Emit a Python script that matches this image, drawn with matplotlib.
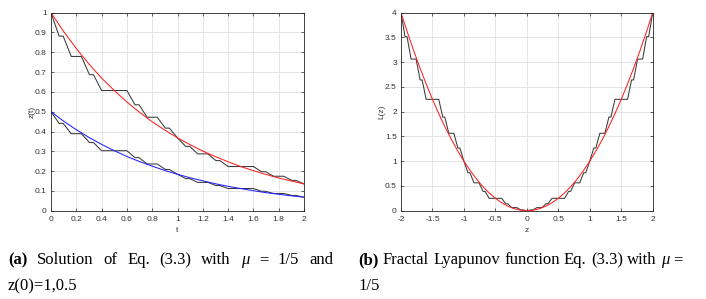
import matplotlib
matplotlib.use("Agg")
import matplotlib.pyplot as plt

# ---------------- data ----------------
t_stair = [0, 0.064, 0.096, 0.16, 0.24, 0.304, 0.336, 0.4, 0.6, 0.664, 0.696, 0.76, 0.84, 0.904, 0.936, 1.0,
           1.064, 1.096, 1.16, 1.24, 1.304, 1.336, 1.4, 1.6, 1.664, 1.696, 1.76, 1.84, 1.904, 1.936, 2.0]
z1_stair = [1.0, 0.882, 0.882, 0.779, 0.779, 0.687, 0.687, 0.607, 0.607, 0.535, 0.535, 0.472, 0.472, 0.417, 0.417,
            0.368, 0.325, 0.325, 0.287, 0.287, 0.253, 0.253, 0.223, 0.223, 0.197, 0.197, 0.174, 0.174, 0.153, 0.153,
            0.135]
z2_stair = [0.5, 0.441, 0.441, 0.389, 0.389, 0.344, 0.344, 0.303, 0.303, 0.268, 0.268, 0.236, 0.236, 0.208, 0.208,
            0.184, 0.162, 0.162, 0.143, 0.143, 0.127, 0.127, 0.112, 0.112, 0.098, 0.098, 0.087, 0.087, 0.077, 0.077,
            0.068]

t_smooth = [0.0, 0.1, 0.2, 0.3, 0.4, 0.5, 0.6, 0.7, 0.8, 0.9, 1.0, 1.1, 1.2, 1.3, 1.4, 1.5, 1.6, 1.7, 1.8, 1.9, 2.0]
z1_smooth = [1.0, 0.905, 0.819, 0.741, 0.670, 0.607, 0.549, 0.497, 0.449, 0.407, 0.368, 0.333, 0.301, 0.273,
             0.247, 0.223, 0.202, 0.183, 0.165, 0.150, 0.135]
z2_smooth = [0.5, 0.452, 0.409, 0.370, 0.335, 0.303, 0.274, 0.248, 0.225, 0.203, 0.184, 0.166, 0.151, 0.136,
             0.123, 0.112, 0.101, 0.091, 0.083, 0.075, 0.068]

zr_stair = [-2.0, -1.936, -1.904, -1.84, -1.76, -1.696, -1.664, -1.6, -1.4, -1.336, -1.304, -1.24, -1.16, -1.096,
            -1.064, -1.0, -0.936, -0.904, -0.84, -0.76, -0.696, -0.664, -0.6, -0.4, -0.336, -0.304, -0.24, -0.16,
            -0.096, -0.064, 0.0, 0.064, 0.096, 0.16, 0.24, 0.304, 0.336, 0.4, 0.6, 0.664, 0.696, 0.76, 0.84, 0.904,
            0.936, 1.0, 1.064, 1.096, 1.16, 1.24, 1.304, 1.336, 1.4, 1.6, 1.664, 1.696, 1.76, 1.84, 1.904, 1.936, 2.0]
L_stair = [4.0, 3.516, 3.516, 3.063, 3.063, 2.641, 2.641, 2.25, 2.25, 1.891, 1.891, 1.563, 1.563, 1.266, 1.266,
           1.0, 0.766, 0.766, 0.563, 0.563, 0.391, 0.391, 0.25, 0.25, 0.141, 0.141, 0.0625, 0.0625, 0.0156, 0.0156,
           0.0, 0.0156, 0.0156, 0.0625, 0.0625, 0.141, 0.141, 0.25, 0.25, 0.391, 0.391, 0.563, 0.563, 0.766, 0.766,
           1.0, 1.266, 1.266, 1.563, 1.563, 1.891, 1.891, 2.25, 2.25, 2.641, 2.641, 3.063, 3.063, 3.516, 3.516, 4.0]

zr_smooth = [-2.0, -1.9, -1.8, -1.7, -1.6, -1.5, -1.4, -1.3, -1.2, -1.1, -1.0, -0.9, -0.8, -0.7, -0.6, -0.5,
             -0.4, -0.3, -0.2, -0.1, 0.0, 0.1, 0.2, 0.3, 0.4, 0.5, 0.6, 0.7, 0.8, 0.9, 1.0, 1.1, 1.2, 1.3, 1.4,
             1.5, 1.6, 1.7, 1.8, 1.9, 2.0]
L_smooth = [4.0, 3.61, 3.24, 2.89, 2.56, 2.25, 1.96, 1.69, 1.44, 1.21, 1.0, 0.81, 0.64, 0.49, 0.36, 0.25, 0.16,
            0.09, 0.04, 0.01, 0.0, 0.01, 0.04, 0.09, 0.16, 0.25, 0.36, 0.49, 0.64, 0.81, 1.0, 1.21, 1.44, 1.69,
            1.96, 2.25, 2.56, 2.89, 3.24, 3.61, 4.0]

xticks_a = [0, 0.2, 0.4, 0.6, 0.8, 1, 1.2, 1.4, 1.6, 1.8, 2]
xticklabels_a = ["0", "0.2", "0.4", "0.6", "0.8", "1", "1.2", "1.4", "1.6", "1.8", "2"]
yticks_a = [0, 0.1, 0.2, 0.3, 0.4, 0.5, 0.6, 0.7, 0.8, 0.9, 1]
yticklabels_a = ["0", "0.1", "0.2", "0.3", "0.4", "0.5", "0.6", "0.7", "0.8", "0.9", "1"]
xticks_b = [-2, -1.5, -1, -0.5, 0, 0.5, 1, 1.5, 2]
xticklabels_b = ["-2", "-1.5", "-1", "-0.5", "0", "0.5", "1", "1.5", "2"]
yticks_b = [0, 0.5, 1, 1.5, 2, 2.5, 3, 3.5, 4]
yticklabels_b = ["0", "0.5", "1", "1.5", "2", "2.5", "3", "3.5", "4"]

caption_a1 = ["(a)", "Solution", "of", "Eq.", "(3.3)", "with", "\u03bc", "=", "1/5", "and"]
caption_a2 = "z(0)=1,0.5"
caption_b1 = ["(b)", "Fractal", "Lyapunov", "function", "Eq.", "(3.3)", "with", "\u03bc", "="]
caption_b2 = "1/5"

# ---------------- figure ----------------
W, H = 706, 299
fig = plt.figure(figsize=(W / 100, H / 100), dpi=100)
plt.rcParams['axes.unicode_minus'] = False

AX_COL = '#262626'
TICK_FONT = 'Liberation Sans'
TICK_FS = 6.0


def px_axes(x0, x1, ytop, ybot):
    return fig.add_axes([x0 / W, 1 - ybot / H, (x1 - x0) / W, (ybot - ytop) / H])


def style(ax, xlim, ylim, xt, xtl, yt, ytl):
    ax.set_xlim(*xlim)
    ax.set_ylim(*ylim)
    ax.set_xticks(xt)
    ax.set_xticklabels(xtl)
    ax.set_yticks(yt)
    ax.set_yticklabels(ytl)
    ax.grid(True, color='#e0e0e0', linewidth=0.6)
    ax.set_axisbelow(True)
    for s in ax.spines.values():
        s.set_color(AX_COL)
        s.set_linewidth(0.6)
    ax.tick_params(direction='in', length=2.5, width=0.5, colors=AX_COL,
                   top=True, right=True, labelsize=TICK_FS)
    ax.tick_params(axis='x', pad=4.0)
    ax.tick_params(axis='y', pad=3)
    for lab in ax.get_xticklabels() + ax.get_yticklabels():
        lab.set_fontfamily(TICK_FONT)
        lab.set_color('#333333')


# panel (a)
axa = px_axes(51, 304, 12.7, 210.7)
axa.plot(t_stair, z1_stair, color='#3a3a3a', lw=0.75)
axa.plot(t_stair, z2_stair, color='#3a3a3a', lw=0.75)
axa.plot(t_smooth, z1_smooth, color='#ff2020', lw=0.75)
axa.plot(t_smooth, z2_smooth, color='#2020ff', lw=0.75)
style(axa, (0, 2), (0, 1), xticks_a, xticklabels_a, yticks_a, yticklabels_a)

# panel (b)
axb = px_axes(401, 652.7, 12.7, 210.7)
axb.plot(zr_stair, L_stair, color='#3a3a3a', lw=0.75)
axb.plot(zr_smooth, L_smooth, color='#ff2020', lw=0.75)
style(axb, (-2, 2), (0, 4), xticks_b, xticklabels_b, yticks_b, yticklabels_b)

# axis labels
lab_kw = dict(fontsize=TICK_FS, family=TICK_FONT, color='#333333')
fig.text(32 / W, 1 - 111.7 / H, "z(t)", rotation=90, ha='center', va='center', **lab_kw)
fig.text(177.5 / W, 1 - 230.5 / H, "t", ha='center', va='center', **lab_kw)
fig.text(382 / W, 1 - 111.7 / H, "L(z)", rotation=90, ha='center', va='center', **lab_kw)
fig.text(527 / W, 1 - 230.5 / H, "z", ha='center', va='center', **lab_kw)

# captions
CAP_FONT = 'Liberation Serif'
CAP_FS = 12.0


def justify(words, x0, x1, ybase):
    texts = []
    for i, w in enumerate(words):
        kw = dict(fontsize=CAP_FS, family=CAP_FONT, va='baseline', ha='left', color='black')
        if i == 0:
            kw['fontweight'] = 'bold'
        if w == "\u03bc":
            kw['fontstyle'] = 'italic'
        texts.append(fig.text(0, 0, w, **kw))
    fig.canvas.draw()
    r = fig.canvas.get_renderer()
    widths = [t.get_window_extent(r).width for t in texts]
    gap = (x1 - x0 - sum(widths)) / (len(words) - 1)
    x = x0
    for t, w in zip(texts, widths):
        t.set_position((x / W, 1 - ybase / H))
        x += w + gap


justify(caption_a1, 8, 333, 264)
fig.text(8 / W, 1 - 290 / H, caption_a2, fontsize=CAP_FS, family=CAP_FONT, va='baseline', ha='left')
justify(caption_b1, 358, 683, 264)
fig.text(358 / W, 1 - 290 / H, caption_b2, fontsize=CAP_FS, family=CAP_FONT, va='baseline', ha='left')

fig.savefig("out.png", dpi=100)
